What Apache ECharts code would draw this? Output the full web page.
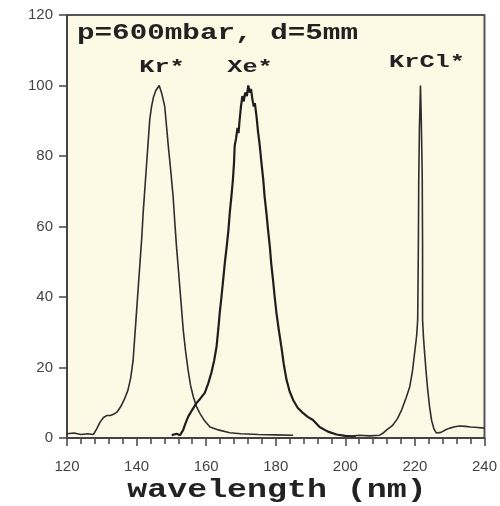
<!DOCTYPE html>
<html lang="en">

<head>
  <meta charset="UTF-8">
  <title>KrCl spectrum</title>
  <script src="https://cdn.jsdelivr.net/npm/echarts@6/dist/echarts.min.js"></script>
  <style>
    html, body { margin: 0; padding: 0; background: #fff; }
    #main { width: 500px; height: 506px; }
  </style>
</head>

<body>
  <div id="main"></div>
</body>
<script>
  // emission spectra, [wavelength nm, intensity]
  var krData = [
    [120, 1.2], [122, 1.4], [124, 1.0], [126, 1.2], [127.6, 1.0], [128.5, 2.5], [129.5, 4.5], [130.5, 5.8],
    [131.5, 6.4], [132.5, 6.4], [133.5, 6.8], [134.5, 7.5], [135.5, 9], [136.5, 11], [137.5, 13.5],
    [138.3, 17], [139, 22], [139.5, 29], [140, 36], [140.5, 43], [141, 50], [141.5, 57], [141.9, 64],
    [142.4, 71], [142.9, 78], [143.4, 85], [143.8, 90.5], [144.3, 94], [144.8, 96.5], [145.5, 98.5],
    [146.5, 100], [147.3, 97.5], [148.1, 94], [148.6, 88.5], [149.1, 83], [149.8, 76], [150.5, 68.5],
    [151, 61], [151.5, 54], [152, 48], [152.4, 43], [152.9, 37], [153.4, 30.7], [154.1, 24.5],
    [154.8, 19.3], [155.5, 15], [156.3, 11.7], [157.2, 9], [158.2, 7], [159.6, 4.8], [161.1, 3.1],
    [163.5, 2.3], [166.8, 1.5], [170, 1.2], [175, 1.0], [180, 0.9], [185, 0.8]
  ];
  var xeData = [
    [150.1, 0.8], [151.5, 1.2], [152.5, 0.8], [153, 1.0], [153.4, 2.3], [154, 4], [154.8, 6], [156, 8],
    [157.2, 9.9], [158.4, 11.3], [159.6, 12.8], [160.6, 15.5], [161.5, 18.5], [162.3, 22], [163, 26],
    [163.5, 31], [163.9, 35.5], [164.4, 40], [164.9, 45], [165.4, 50], [165.9, 54.3], [166.4, 59],
    [166.8, 64], [167.3, 69], [167.7, 73.4], [168, 78], [168.2, 82.9], [168.6, 85], [169, 88], [169.3, 86.5],
    [169.6, 90], [170, 94], [170.4, 97], [170.8, 95.5], [171.2, 98], [171.7, 97], [172.1, 100], [172.5, 98],
    [172.9, 99], [173.3, 96], [173.7, 94], [174, 95], [174.5, 91], [174.9, 87], [175.4, 83], [175.9, 78],
    [176.4, 73.4], [176.8, 68.5], [177.3, 64], [177.8, 59], [178.3, 54.3], [178.7, 49.5], [179.2, 45],
    [179.7, 40], [180.2, 35.5], [180.9, 30.5], [181.6, 26], [182.3, 21], [183.1, 16.5], [184, 13.2],
    [185, 10.8], [186.3, 8.6], [187.8, 7.1], [189.2, 6], [190.7, 5.1], [192.6, 3.1], [195, 1.8],
    [197.5, 1.0], [200, 0.6], [203, 0.5]
  ];
  var krclData = [
    [201, 0.5], [204, 0.8], [207, 0.6], [209.9, 0.8], [211, 1.5], [211.9, 2.3], [213.5, 3.5], [215, 5.5],
    [216.2, 8], [217.5, 11.5], [218.5, 14.5], [219.3, 19], [219.9, 24], [220.5, 29], [220.8, 33.5],
    [221.0, 55], [221.1, 73], [221.3, 88], [221.6, 100], [221.8, 92], [222.1, 75], [222.2, 55],
    [222.2, 33.5], [222.5, 28], [222.8, 24], [223.2, 19], [223.6, 14.5], [224.2, 9], [224.8, 5],
    [225.5, 2.5], [226.2, 1.4], [227.5, 1.6], [229, 2.4], [230, 2.8], [231.5, 3.2], [232.8, 3.4],
    [234.5, 3.3], [236, 3.1], [238, 3.0], [240, 2.8]
  ];
  var xTicks = [120, 240, 20];
  var yTicks = [0, 120, 20];

  var monoFont = '"Liberation Mono", "DejaVu Sans Mono", monospace';
  var lineStyle = { color: '#2e2e2e', width: 1.6 };

  function label(text, x, y, size, align) {
    return {
      type: 'text',
      x: x,
      y: y,
      scaleX: 1.33,
      z: 100,
      style: {
        text: text,
        font: 'bold ' + size + 'px ' + monoFont,
        fill: '#222',
        align: align,
        verticalAlign: 'middle'
      }
    };
  }

  var myChart = echarts.init(document.getElementById('main'));
  var option = {
    animation: false,
    backgroundColor: '#fff',
    grid: {
      left: 67,
      right: 15,
      top: 15,
      bottom: 68,
      show: true,
      backgroundColor: '#fcf9e5',
      borderColor: '#555',
      borderWidth: 2
    },
    xAxis: {
      type: 'value',
      min: xTicks[0],
      max: xTicks[1],
      interval: xTicks[2],
      axisLine: { lineStyle: { color: '#444', width: 2 } },
      axisTick: { length: 8, lineStyle: { color: '#444', width: 1.5 } },
      minorTick: { show: true, splitNumber: 5, length: 6, lineStyle: { color: '#444', width: 1.5 } },
      splitLine: { show: false },
      axisLabel: {
        margin: 21,
        fontSize: 15,
        fontFamily: '"Liberation Sans", Arial, sans-serif',
        color: '#444'
      }
    },
    yAxis: {
      type: 'value',
      min: yTicks[0],
      max: yTicks[1],
      interval: yTicks[2],
      axisLine: { show: true, lineStyle: { color: '#444', width: 2 } },
      axisTick: { show: true, length: 8, lineStyle: { color: '#444', width: 1.5 } },
      splitLine: { show: false },
      axisLabel: {
        margin: 14,
        fontSize: 15,
        fontFamily: '"Liberation Sans", Arial, sans-serif',
        color: '#444'
      }
    },
    series: [
      { name: 'Kr*', type: 'line', data: krData, showSymbol: false, lineStyle: lineStyle },
      { name: 'Xe*', type: 'line', data: xeData, showSymbol: false, lineStyle: { color: '#1e1e1e', width: 2.2 } },
      { name: 'KrCl*', type: 'line', data: krclData, showSymbol: false, lineStyle: lineStyle }
    ],
    graphic: [
      label('p=600mbar, d=5mm', 77, 33, 22, 'left'),
      label('Kr*', 162, 67, 19, 'center'),
      label('Xe*', 250, 67, 19, 'center'),
      label('KrCl*', 427, 62, 19, 'center'),
      label('wavelength (nm)', 277, 491, 25, 'center')
    ]
  };
  myChart.setOption(option);
</script>

</html>
